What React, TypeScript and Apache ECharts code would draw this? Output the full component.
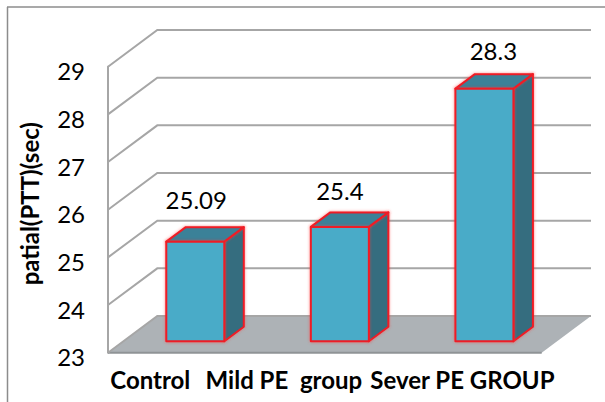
import React, { useEffect, useRef } from "react";
import * as echarts from "echarts";

const categories = ["Control", "Mild PE  group", "Sever PE GROUP"];
const values = [25.09, 25.4, 28.3];
const valueLabels = ["25.09", "25.4", "28.3"];
const yTicks = [23, 24, 25, 26, 27, 28, 29];

const categoryShift = [30, 41, 7];
const valueLabelShiftX = [1, 0, 9];
const valueLabelShiftY = [-42, -36, -38];

const WALL_DX = 49.3;
const WALL_DY = 36.7;
const BAR_DX = 15;
const BAR_DY = 11.4;
const BAR_W = 58;
const DEPTH_DX = 19.5;
const DEPTH_DY = 14.5;
const GRID_COLOR = "#a6a6a6";

const renderFloor = (params: any) => {
  const c = params.coordSys;
  const b = c.y + c.height;
  return {
    type: "group",
    children: [
      {
        type: "polygon",
        shape: {
          points: [
            [c.x, b],
            [c.x + WALL_DX, b - WALL_DY],
            [c.x + c.width + WALL_DX, b - WALL_DY],
            [c.x + c.width, b],
          ],
        },
        style: { fill: "#adb2b6", stroke: "none" },
      },
      {
        type: "line",
        shape: { x1: c.x, y1: b, x2: c.x + c.width, y2: b },
        style: { stroke: "#8f9396", lineWidth: 2 },
      },
    ],
  };
};

const renderWall = (params: any, api: any) => {
  const c = params.coordSys;
  const y = api.coord([0, api.value(1)])[1];
  return {
    type: "polyline",
    shape: {
      points: [
        [c.x, y],
        [c.x + WALL_DX, y - WALL_DY],
        [c.x + c.width + WALL_DX, y - WALL_DY],
      ],
    },
    style: { stroke: GRID_COLOR, lineWidth: 2, fill: "none" },
  };
};

const renderBar = (params: any, api: any) => {
  const i = api.value(0);
  const top = api.coord([i, api.value(1)]);
  const base = api.coord([i, 23]);
  const l = top[0] + BAR_DX - BAR_W / 2;
  const r = l + BAR_W;
  const t = top[1] - BAR_DY;
  const b = base[1] - BAR_DY;
  const edge = {
    stroke: "#ee1c25",
    lineWidth: 2,
    lineJoin: "round",
    shadowBlur: 3,
    shadowColor: "rgba(255,60,60,0.6)",
  };
  return {
    type: "group",
    children: [
      {
        type: "polygon",
        shape: { points: [[r, t], [r + DEPTH_DX, t - DEPTH_DY], [r + DEPTH_DX, b - DEPTH_DY], [r, b]] },
        style: { fill: "#346d7f", ...edge },
      },
      {
        type: "polygon",
        shape: { points: [[l, t], [l + DEPTH_DX, t - DEPTH_DY], [r + DEPTH_DX, t - DEPTH_DY], [r, t]] },
        style: { fill: "#3a8198", ...edge },
      },
      {
        type: "polygon",
        shape: { points: [[l, t], [r, t], [r, b], [l, b]] },
        style: { fill: "#4aabc8", ...edge },
      },
      {
        type: "text",
        style: {
          x: (l + r) / 2 + valueLabelShiftX[i],
          y: t + valueLabelShiftY[i],
          text: valueLabels[i],
          fill: "#000",
          font: "24px Lato",
          textAlign: "center",
          textVerticalAlign: "middle",
        },
      },
    ],
  };
};

export default function App() {
  const ref = useRef<HTMLDivElement>(null);
  useEffect(() => {
    document.body.style.margin = "0";
    const chart = echarts.init(ref.current!, null, { renderer: "svg" });
    const rich: any = {};
    categoryShift.forEach((s, i) => {
      rich[`c${i}`] = {
        fontFamily: "Lato",
        fontWeight: "bold",
        fontSize: 24,
        color: "#000",
        padding: [0, s * 2, 0, 0],
      };
    });
    chart.setOption({
      animation: false,
      backgroundColor: "#fff",
      graphic: [
        { type: "line", shape: { x1: 7.5, y1: 7, x2: 7.5, y2: 402 }, style: { stroke: "#8c8c8c", lineWidth: 1.5 } },
        { type: "line", shape: { x1: 7, y1: 7, x2: 605, y2: 7 }, style: { stroke: "#8c8c8c", lineWidth: 1.5 } },
      ],
      grid: { left: 108, top: 66.7, width: 433.7, height: 286 },
      xAxis: {
        type: "category",
        data: categories,
        axisLine: { show: false },
        axisTick: { show: false },
        axisLabel: {
          interval: 0,
          margin: 15,
          formatter: (v: string, i: number) => `{c${i}|${v}}`,
          rich,
        },
      },
      yAxis: {
        type: "value",
        min: 23,
        max: 29,
        interval: 1,
        name: "patial(PTT)(sec)",
        nameLocation: "middle",
        nameGap: 67,
        nameTextStyle: { fontFamily: "Lato", fontWeight: "bold", fontSize: 24, color: "#000", padding: [0, 0, 0, 12] },
        splitLine: { show: false },
        axisTick: { show: false },
        axisLine: { show: true, lineStyle: { color: GRID_COLOR, width: 2 } },
        axisLabel: {
          margin: 23,
          formatter: (v: number) => `{n|${v}}`,
          rich: {
            n: { fontFamily: "Lato", fontSize: 24, color: "#000", padding: [8, 0, 0, 0] },
          },
        },
      },
      series: [
        { type: "custom", clip: false, z: 1, renderItem: renderFloor, data: [[0, 23]], encode: { x: 0, y: 1 }, silent: true },
        { type: "custom", clip: false, z: 2, renderItem: renderWall, data: yTicks.map((t) => [0, t]), encode: { x: 0, y: 1 }, silent: true },
        { type: "custom", clip: false, z: 3, renderItem: renderBar, data: values.map((v, i) => [i, v]), encode: { x: 0, y: 1 }, silent: true },
      ],
    });
    return () => chart.dispose();
  }, []);
  return <div ref={ref} style={{ position: "absolute", left: 0, top: 0, width: 605, height: 402, overflow: "hidden" }} />;
}
